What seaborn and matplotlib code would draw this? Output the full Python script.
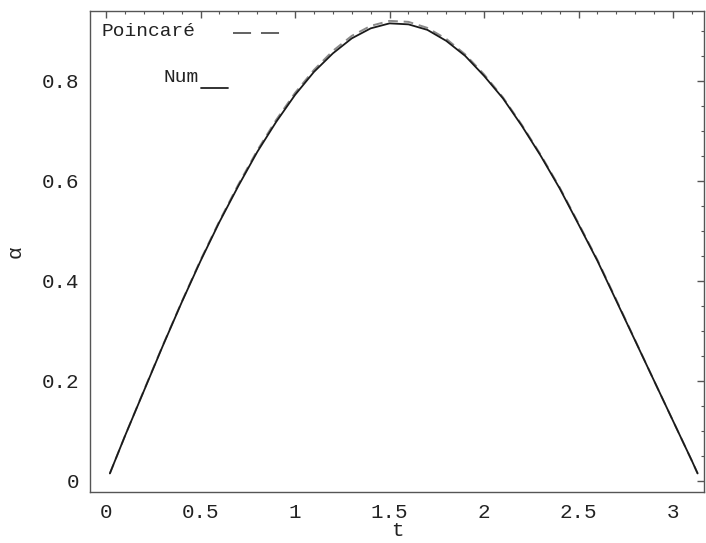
import matplotlib
matplotlib.use("Agg")
import matplotlib.pyplot as plt
from matplotlib.ticker import MultipleLocator
import pandas as pd
import seaborn as sns

# time samples
t = [0.02, 0.1, 0.2, 0.3, 0.4, 0.5, 0.6, 0.7, 0.8, 0.9, 1.0, 1.1, 1.2, 1.3,
     1.4, 1.5, 1.6, 1.7, 1.8, 1.9, 2.0, 2.1, 2.2, 2.3, 2.4, 2.5, 2.6, 2.7,
     2.8, 2.9, 3.0, 3.1, 3.13]

# numerical solution
alpha_num = [0.015, 0.09, 0.18, 0.27, 0.357, 0.44, 0.518, 0.59, 0.658, 0.718,
             0.772, 0.818, 0.855, 0.885, 0.905, 0.915, 0.913, 0.902, 0.88,
             0.85, 0.81, 0.765, 0.71, 0.65, 0.585, 0.513, 0.44, 0.36, 0.28,
             0.2, 0.12, 0.04, 0.015]

# Poincaré approximation
alpha_poincare = [0.015, 0.09, 0.181, 0.271, 0.358, 0.442, 0.52, 0.593, 0.661,
                  0.722, 0.776, 0.822, 0.86, 0.89, 0.91, 0.92, 0.918, 0.906,
                  0.884, 0.853, 0.813, 0.767, 0.712, 0.652, 0.587, 0.515,
                  0.442, 0.362, 0.281, 0.2, 0.12, 0.04, 0.015]

x_ticks = [0, 0.5, 1, 1.5, 2, 2.5, 3]
x_tick_labels = ["0", "0.5", "1", "1.5", "2", "2.5", "3"]
y_ticks = [0, 0.2, 0.4, 0.6, 0.8]
y_tick_labels = ["0", "0.2", "0.4", "0.6", "0.8"]

sns.set_style("white")
plt.rcParams["font.family"] = ["Liberation Mono", "DejaVu Sans"]

fig = plt.figure(figsize=(7.06, 5.43), dpi=100)
ax = fig.add_axes([0.1275, 0.094, 0.870, 0.886])

df_num = pd.DataFrame({"t": t, "alpha": alpha_num})
df_poi = pd.DataFrame({"t": t, "alpha": alpha_poincare})

sns.lineplot(data=df_poi, x="t", y="alpha", ax=ax, color="#8a8a8a",
             linewidth=1.4, linestyle=(0, (5, 3)), sort=False)
sns.lineplot(data=df_num, x="t", y="alpha", ax=ax, color="#1a1a1a",
             linewidth=1.3, sort=False)

ax.set_xlim(-0.085, 3.165)
ax.set_ylim(-0.022, 0.94)

ax.set_xticks(x_ticks)
ax.set_xticklabels(x_tick_labels)
ax.set_yticks(y_ticks)
ax.set_yticklabels(y_tick_labels)
ax.xaxis.set_minor_locator(MultipleLocator(0.1))
ax.yaxis.set_minor_locator(MultipleLocator(0.05))

ax.tick_params(which="both", direction="in", top=True, right=True,
               colors="#555555", labelcolor="#222222", labelsize=15)
ax.tick_params(which="major", length=5, width=1)
ax.tick_params(which="minor", length=2.5, width=0.8)
ax.tick_params(axis="x", pad=8)
ax.tick_params(axis="y", pad=8)

for s in ax.spines.values():
    s.set_color("#555555")
    s.set_linewidth(1.0)

ax.set_xlabel("t", fontsize=15, color="#222222", labelpad=-1)
ax.set_ylabel("α", fontsize=15, color="#222222", labelpad=12)

# legend drawn as labels with line samples
ax.text(0.018, 0.975, "Poincaré", transform=ax.transAxes, fontsize=14,
        color="#222222", va="top", ha="left")
ax.plot([0.232, 0.31], [0.953, 0.953], transform=ax.transAxes,
        color="#555555", linewidth=1.3, linestyle=(0, (10, 5.5)))
ax.text(0.12, 0.88, "Num", transform=ax.transAxes, fontsize=14,
        color="#222222", va="top", ha="left")
ax.plot([0.18, 0.225], [0.84, 0.84], transform=ax.transAxes,
        color="#222222", linewidth=1.3)

fig.savefig("out.png", dpi=100)
